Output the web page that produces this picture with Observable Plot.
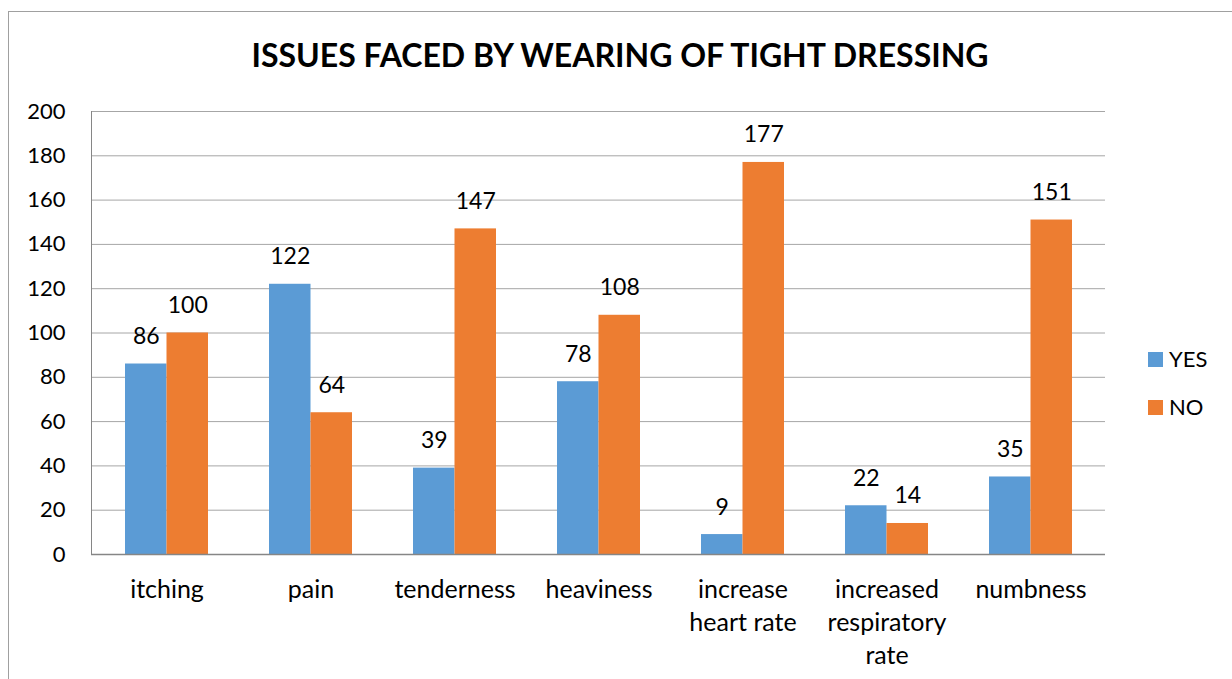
<!DOCTYPE html>
<html>
<head>
<meta charset="utf-8">
<script src="https://cdn.jsdelivr.net/npm/d3@7"></script>
<script src="https://cdn.jsdelivr.net/npm/@observablehq/plot@0.6"></script>
<style>
  html, body { margin: 0; padding: 0; background: #fff; overflow: hidden; }
  #wrap { position: relative; width: 1232px; height: 679px; overflow: hidden; font-family: Lato, "Open Sans", sans-serif; }
  #border { position: absolute; left: 8px; top: 11px; width: 1400px; height: 900px; border: 1px solid #A0A0A0; box-sizing: border-box; }
  #title { position: absolute; left: 0; width: 1240px; top: 35px; text-align: center; font-weight: bold; font-size: 32px; line-height: 40px; color: #000; }
  #chart { position: absolute; left: 0; top: 0; }
  .leg { position: absolute; font-size: 22px; color: #000; line-height: 26px; }
  .sw { position: absolute; width: 15px; height: 15px; }
</style>
</head>
<body>
<div id="wrap">
  <div id="border"></div>
  <div id="chart"></div>
  <div id="title">ISSUES FACED BY WEARING OF TIGHT DRESSING</div>
  <div id="legend"></div>
</div>
<script>
const categories = ["itching", "pain", "tenderness", "heaviness", "increase heart rate", "increased respiratory rate", "numbness"];
const categoryLabels = ["itching", "pain", "tenderness", "heaviness", "increase\nheart rate", "increased\nrespiratory\nrate", "numbness"];
const yesValues = [86, 122, 39, 78, 9, 22, 35];
const noValues = [100, 64, 147, 108, 177, 14, 151];
const seriesNames = ["YES", "NO"];
const seriesColors = ["#5B9BD5", "#ED7D31"];
const yTicks = [0, 20, 40, 60, 80, 100, 120, 140, 160, 180, 200];

const data = categories.map((c, i) => ({cat: c, yes: yesValues[i], no: noValues[i]}));

const W = 1232, H = 679;
const mL = 91, mR = 127, mT = 111, mB = 125;
const padInner = 0.427;
const step = (W - mL - mR) / categories.length;
const half = step * (1 - padInner) / 2;

const chart = Plot.plot({
  width: W,
  height: H,
  marginLeft: mL,
  marginRight: mR,
  marginTop: mT,
  marginBottom: mB,
  style: {fontFamily: "Lato, 'Open Sans', sans-serif", color: "#000", background: "transparent"},
  x: {domain: categories, paddingInner: padInner, paddingOuter: padInner / 2},
  y: {domain: [0, 200]},
  marks: [
    Plot.gridY(yTicks, {stroke: "#A6A6A6", strokeOpacity: 1}),
    Plot.frame({anchor: "left", stroke: "#868686"}),
    Plot.barY(data, {x: "cat", y: "yes", fill: seriesColors[0], insetRight: half}),
    Plot.barY(data, {x: "cat", y: "no", fill: seriesColors[1], insetLeft: half}),
    Plot.ruleY([0], {stroke: "#868686", strokeWidth: 1.5}),
    Plot.text(data, {x: "cat", y: "yes", text: d => String(d.yes), dx: -half / 2, dy: -20, lineAnchor: "bottom", fontSize: 23, fill: "#000"}),
    Plot.text(data, {x: "cat", y: "no", text: d => String(d.no), dx: half / 2, dy: -20, lineAnchor: "bottom", fontSize: 23, fill: "#000"}),
    Plot.axisY(yTicks, {tickSize: 0, tickPadding: 26, fontSize: 22, label: null, fill: "#000"}),
    Plot.axisX({tickSize: 0, tickPadding: 20, fontSize: 25, lineHeight: 1.32, label: null, fill: "#000",
      tickFormat: d => categoryLabels[categories.indexOf(d)]})
  ]
});
document.getElementById("chart").appendChild(chart);

const legendPos = [352, 400];
const legend = document.getElementById("legend");
seriesNames.forEach((name, i) => {
  const sw = document.createElement("div");
  sw.className = "sw";
  sw.style.left = "1148px";
  sw.style.top = legendPos[i] + "px";
  sw.style.background = seriesColors[i];
  legend.appendChild(sw);
  const t = document.createElement("div");
  t.className = "leg";
  t.style.left = "1169px";
  t.style.top = (legendPos[i] - 6) + "px";
  t.textContent = name;
  legend.appendChild(t);
});
</script>
</body>
</html>
